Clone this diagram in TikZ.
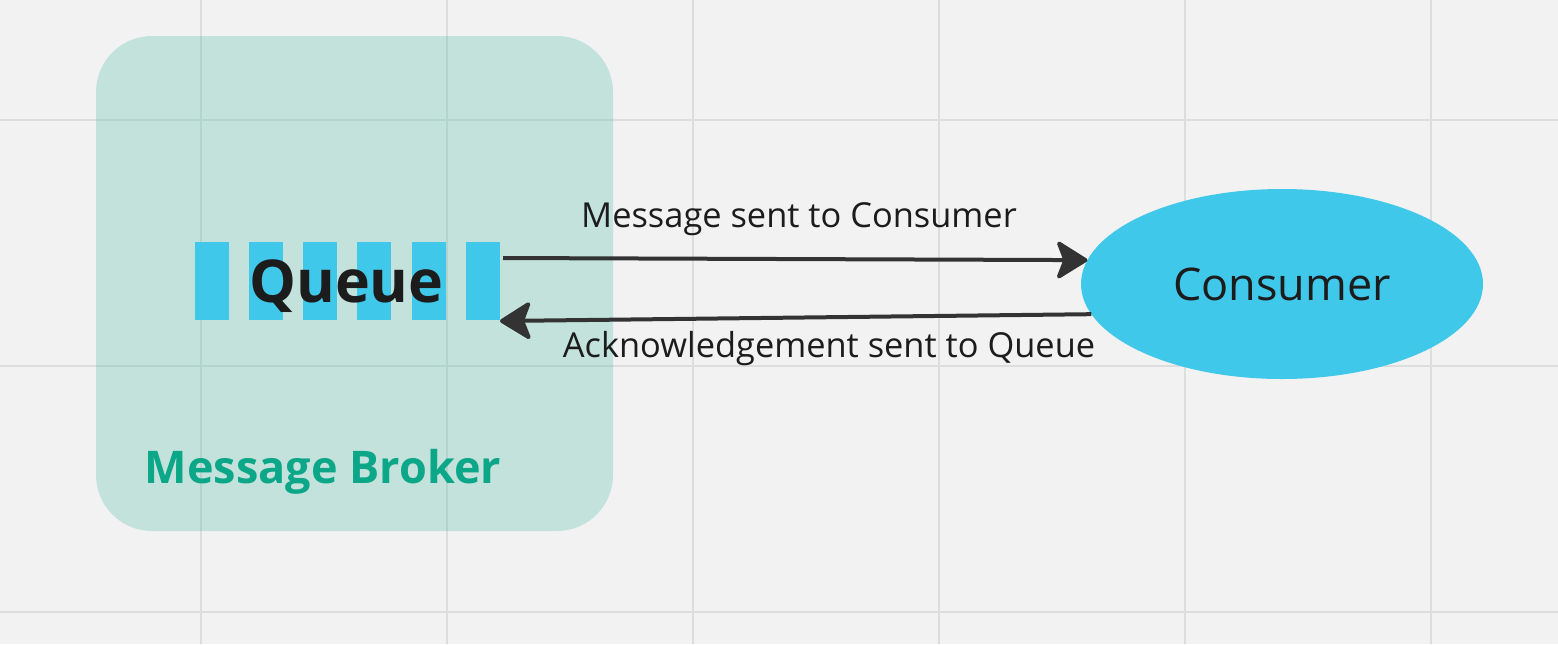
\documentclass[tikz,border=0pt]{standalone}
\usepackage{fontspec}
\setmainfont{Open Sans}
\usetikzlibrary{arrows.meta,shapes.geometric}
\definecolor{bg}{HTML}{F2F2F2}
\definecolor{gridc}{HTML}{DDDDDD}
\definecolor{brokerc}{HTML}{55C0A9}
\definecolor{cyanc}{HTML}{40C8EA}
\definecolor{greentxt}{HTML}{0CA789}
\definecolor{darktxt}{HTML}{1C1C1C}
\definecolor{arrowc}{HTML}{333333}
\tikzset{
  gridline/.style={draw=gridc, line width=1pt},
  bar/.style={fill=cyanc, draw=none, minimum width=17pt, minimum height=39pt, inner sep=0pt, outer sep=0pt},
  conn/.style={draw=arrowc, line width=2pt, -{Stealth[length=17pt,width=21pt,inset=4pt,round]}},
  lbl/.style={font=\fontsize{17.2pt}{20pt}\selectfont, text=darktxt, inner sep=0pt, anchor=base},
}
\begin{document}
\begin{tikzpicture}[x=0.5pt,y=-0.5pt]
\fill[bg] (0,0) rectangle (1558,644);
\useasboundingbox (0,0) rectangle (1558,644);
% grid
\foreach \gx in {201,447,693,939,1185,1431} \draw[gridline] (\gx,0) -- (\gx,644);
\foreach \gy in {120,366,612} \draw[gridline] (0,\gy) -- (1558,\gy);
% broker
\fill[brokerc, fill opacity=0.3, rounded corners=28pt] (96,36) rectangle (613,531);
\node[font=\bfseries\fontsize{22.5pt}{27pt}\selectfont, text=greentxt, inner sep=0pt, anchor=base] (broker) at (323,483) {Message Broker};
% queue bars
\node[bar] (b1) at (212,281) {};
\node[bar] (b2) at (266,281) {};
\node[bar] (b3) at (320,281) {};
\node[bar] (b4) at (374,281) {};
\node[bar] (b5) at (429,281) {};
\node[bar] (b6) at (483,281) {};
\node[font=\bfseries\fontsize{29.5pt}{35pt}\selectfont, text=darktxt, inner sep=0pt, anchor=base] (queue) at (346.5,302) {Queue};
% consumer
\node[ellipse, fill=cyanc, draw=none, minimum width=201pt, minimum height=95pt, inner sep=0pt, outer sep=0pt,
      font=\fontsize{22.5pt}{27pt}\selectfont, text=darktxt] (consumer) at (1282,284) {Consumer};
% connectors
\coordinate (qout) at (503,258);
\coordinate (qin) at (500,321);
\draw[conn] (qout) -- (consumer.173.6);
\draw[conn] (consumer.189.8) -- (qin);
\node[lbl] (l1) at (799,227) {Message sent to Consumer};
\node[lbl] (l2) at (829,357) {Acknowledgement sent to Queue};
\end{tikzpicture}
\end{document}
